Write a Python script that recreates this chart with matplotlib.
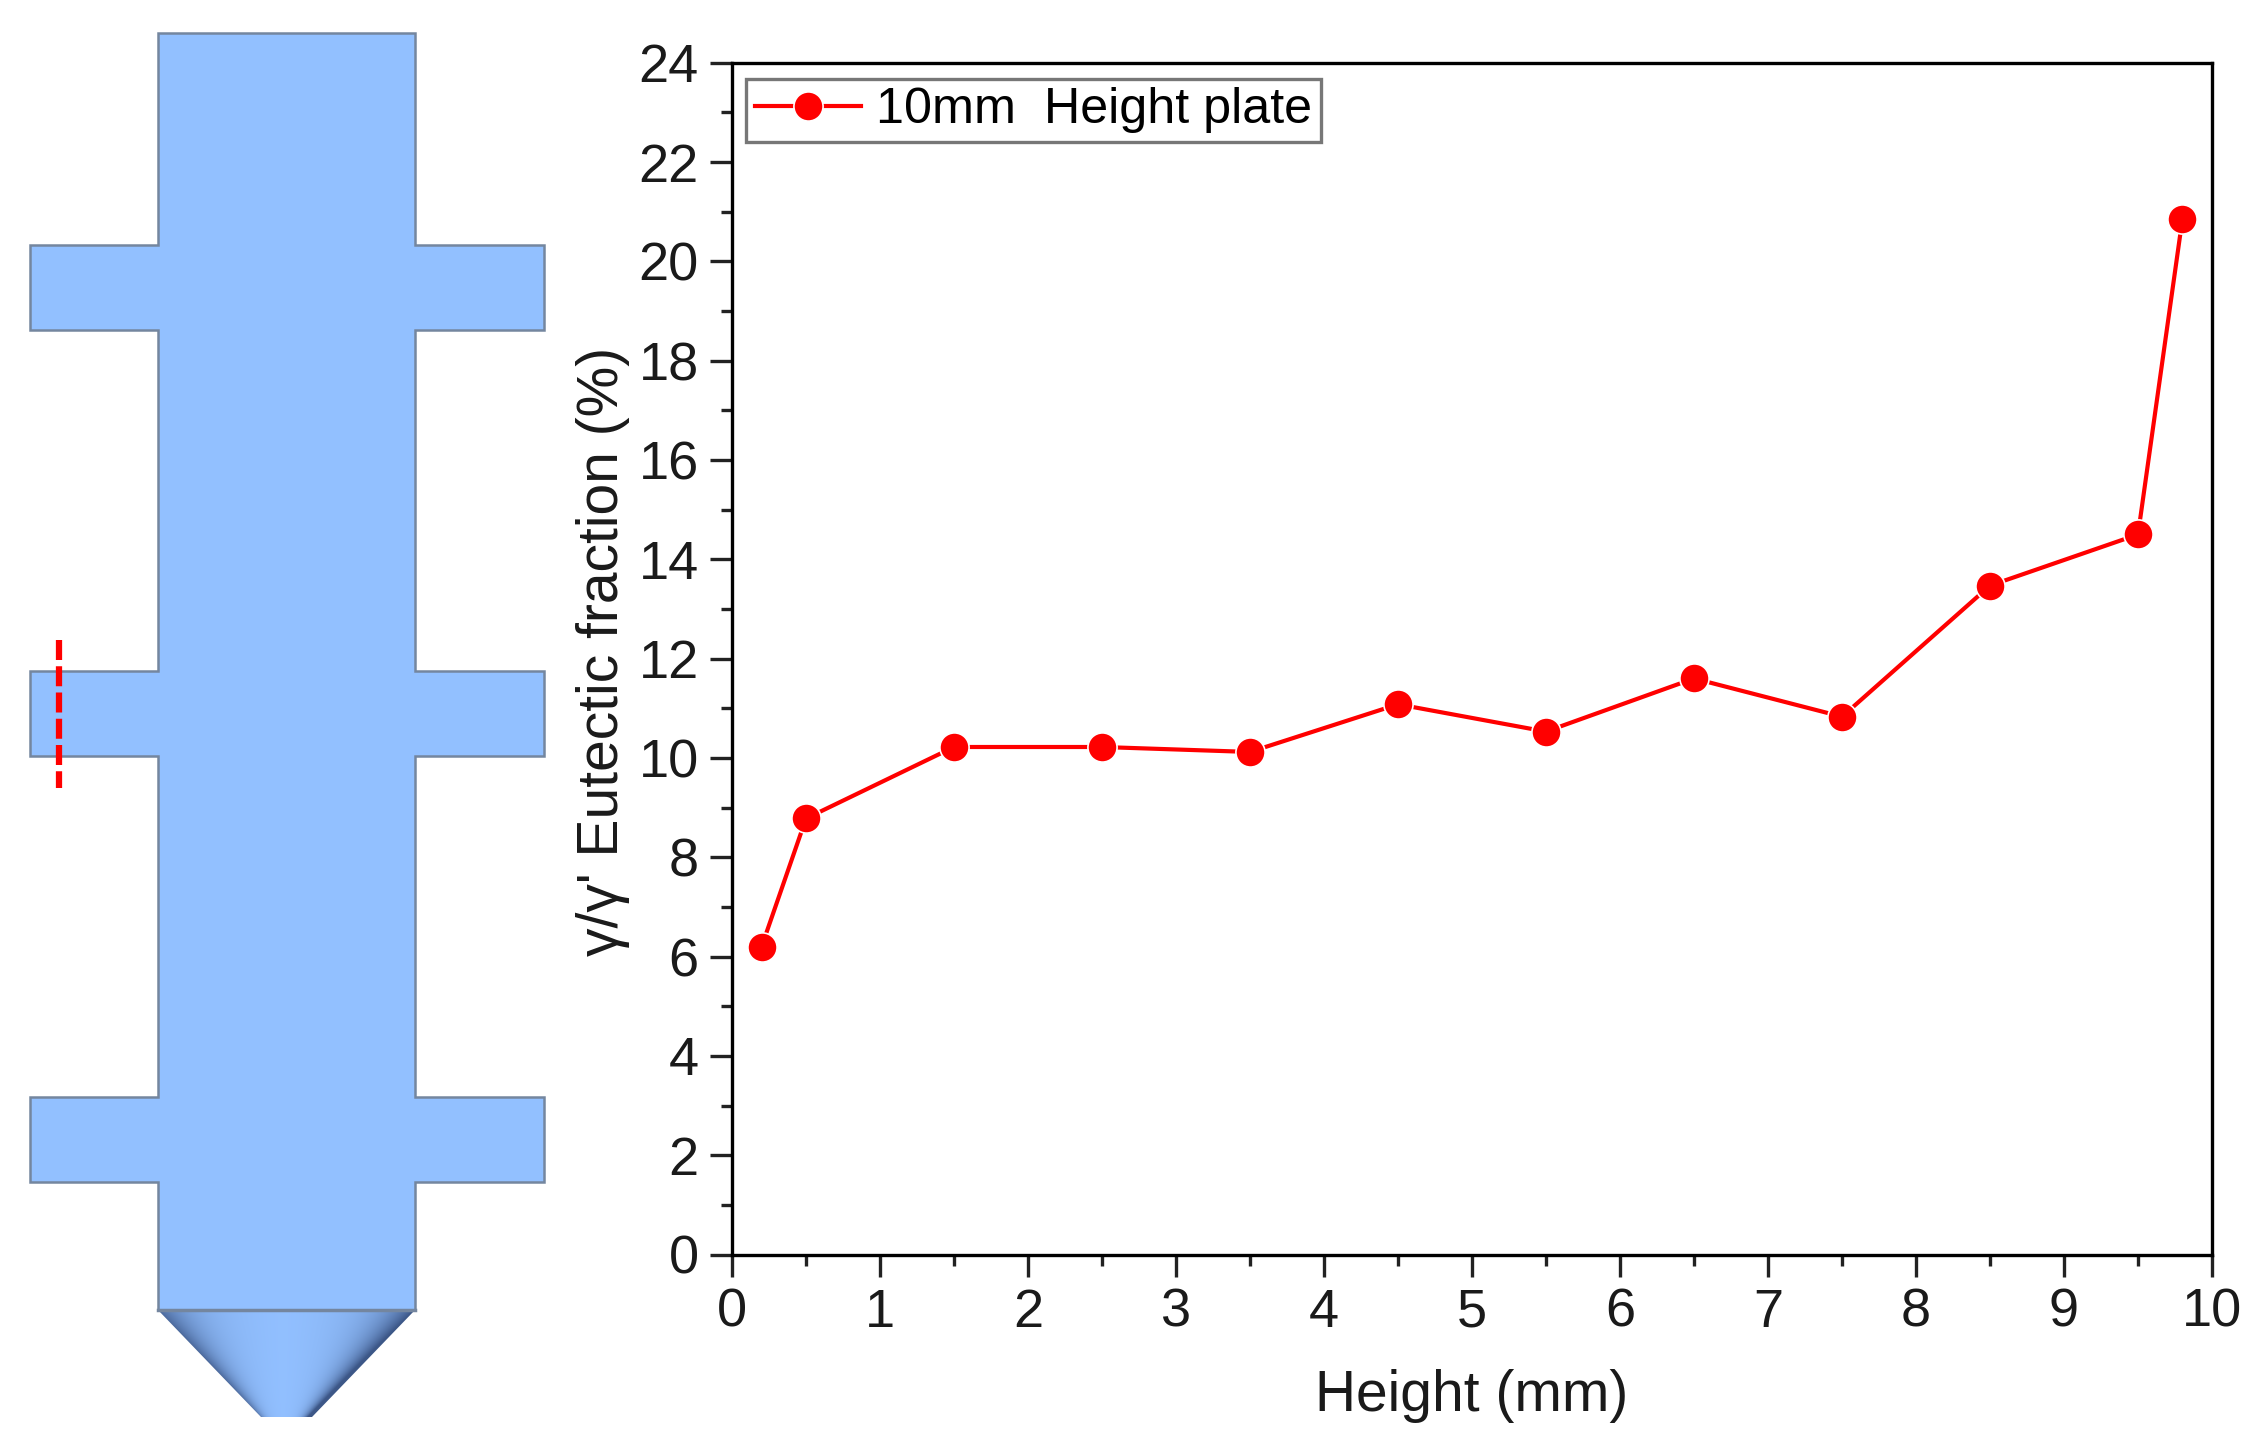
import numpy as np
import matplotlib.pyplot as plt
from matplotlib.patches import Polygon

plt.rcParams['font.family'] = ['Liberation Sans', 'DejaVu Sans']

# chart values
height = [0.2, 0.5, 1.5, 2.5, 3.5, 4.5, 5.5, 6.5, 7.5, 8.5, 9.5, 9.8]
fraction = [6.2, 8.78, 10.22, 10.22, 10.12, 11.08, 10.53, 11.6, 10.83, 13.47, 14.5, 20.85]
legend_label = '10mm  Height plate'

# sample outline, in picture pixels
body_x = [158, 415, 415, 544, 544, 415, 415, 544, 544, 415, 415, 544, 544, 415, 415, 158, 158, 30, 30, 158, 158, 30, 30, 158, 158, 30, 30, 158]
body_y = [33, 33, 245, 245, 330, 330, 671, 671, 756, 756, 1097, 1097, 1182, 1182, 1310, 1310, 1182, 1182, 1097, 1097, 756, 756, 671, 671, 330, 330, 245, 245]
cone_x = [158, 415, 312, 261]
cone_y = [1310, 1310, 1417, 1417]
cut_x = [59, 59]
cut_y = [640, 788]

W, H = 2263, 1451
fig = plt.figure(figsize=(W / 100, H / 100), dpi=100)

# left schematic
sk = fig.add_axes([0, 0, 1, 1])
sk.set_xlim(0, W)
sk.set_ylim(H, 0)
sk.axis('off')
sk.add_patch(Polygon(np.column_stack([body_x, body_y]), closed=True, facecolor='#92c0ff', edgecolor='#74869f', linewidth=1.8))

# cone shading, darker toward the slanted edges and the tip
yy, xx = np.mgrid[1310:1417:200j, 158:415:400j]
half = 128.5 - (yy - 1310) / 107 * 103
u = (xx - 283) / half
t = (yy - 1310) / 107
shade = np.clip(np.abs(u) ** 5 * (0.55 + 0.3 * t) + 0.22 * np.abs(u) ** 1.5 * (1 - 0.5 * t), 0, 0.85)
base = np.array([0.57, 0.75, 1.0])
dark = np.array([0.18, 0.27, 0.45])
rgb = base + (dark - base) * shade[..., None]
im = sk.imshow(rgb, extent=[158, 415, 1417, 1310], aspect='auto', zorder=2)
cone = Polygon(np.column_stack([cone_x, cone_y]), closed=True, facecolor='none', edgecolor='none', transform=sk.transData)
sk.add_patch(cone)
im.set_clip_path(cone)
sk.plot([158, 415], [1310, 1310], color='#74869f', linewidth=2.5, zorder=3)
sk.set_xlim(0, W)
sk.set_ylim(H, 0)
sk.plot(cut_x, cut_y, color='red', linewidth=4.5, dashes=(3.2, 1.0), zorder=4)

# right chart
ax = fig.add_axes([732 / W, 1 - 1254.5 / H, (2212 - 732) / W, (1254.5 - 62.7) / H])
ax.patch.set_alpha(0)
ax.plot(height, fraction, color='red', linewidth=3, marker='o', markersize=21,
        markerfacecolor='red', markeredgecolor='white', markeredgewidth=1.2, label=legend_label, clip_on=False)
ax.set_xlim(0, 10)
ax.set_ylim(0, 24)
ax.set_xticks(range(0, 11))
ax.set_xticks(np.arange(0.5, 10, 1), minor=True)
ax.set_yticks(range(0, 25, 2))
ax.set_yticks(range(1, 24, 2), minor=True)
ax.tick_params(which='major', length=16, width=2.4, labelsize=39, color='#222222', labelcolor='#1a1a1a', pad=8)
ax.tick_params(which='minor', length=8, width=2.4, color='#222222')
for s in ax.spines.values():
    s.set_linewidth(2.4)
ax.set_xlabel('Height (mm)', fontsize=41, color='#1a1a1a')
ax.set_ylabel("γ/γ' Eutectic fraction (%)", fontsize=41, color='#1a1a1a')
ax.xaxis.set_label_coords(0.4997, -0.096)
ax.yaxis.set_label_coords(-0.069, 0.506)

leg = ax.legend(loc='upper left', bbox_to_anchor=(0.0095, 0.9866), borderaxespad=0, fontsize=36.2,
                fancybox=False, framealpha=1, edgecolor='#777777', handlelength=2.12,
                handletextpad=0.3, borderpad=0.17)
leg.get_frame().set_linewidth(2.4)

plt.savefig('out.png', dpi=100)
